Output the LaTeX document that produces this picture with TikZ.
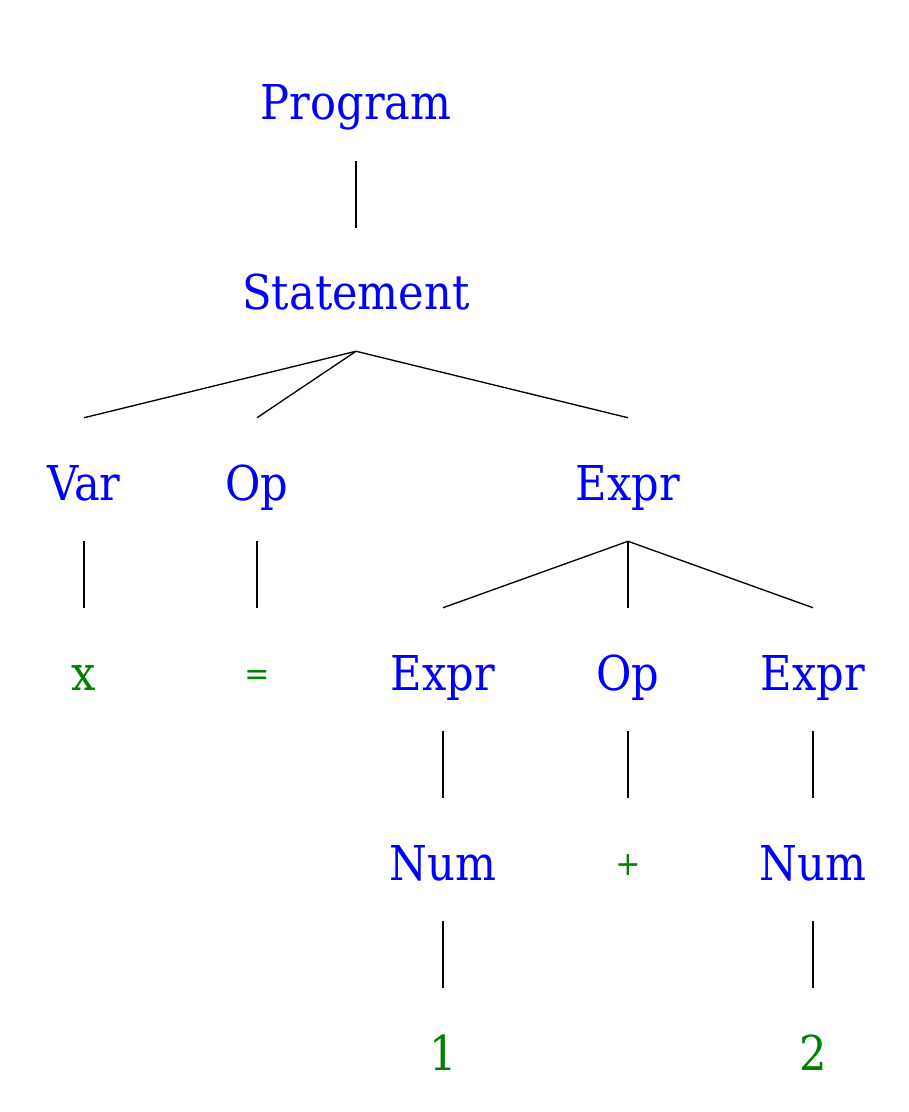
\documentclass[tikz,border=0pt]{standalone}
\usepackage{fontspec}
\setmainfont{DejaVu Serif Condensed}
\definecolor{ntblue}{RGB}{0,0,255}
\definecolor{tgreen}{RGB}{0,128,0}
\newcommand{\smallsym}[1]{\raisebox{3.5pt}{\fontsize{25}{30}\selectfont #1}}
\begin{document}
\begin{tikzpicture}[x=0.75pt,y=-0.75pt,
  nt/.style={anchor=base,text=ntblue,font=\fontsize{36}{43}\selectfont,inner xsep=0pt,inner ysep=0pt,text height=61.5pt,text depth=30.75pt},
  tm/.style={nt,text=tgreen},
  edge/.style={draw=black,line width=1pt}]
\useasboundingbox (0,0) rectangle (908,1112);
\node[nt] (prog) at (356,120) {Program};
\node[nt] (stmt) at (356,310) {Statement};
\node[nt] (var) at (84,500) {Var};
\node[nt] (op1) at (257,500) {Op};
\node[nt] (expr) at (628,500) {Expr};
\node[tm] (x) at (84,690) {x};
\node[tm] (eq) at (257,690) {\smallsym{=}};
\node[nt] (e1) at (443,690) {Expr};
\node[nt] (op2) at (628,690) {Op};
\node[nt] (e2) at (813,690) {Expr};
\node[nt] (n1) at (443,880) {Num};
\node[tm] (plus) at (628,880) {\smallsym{+}};
\node[nt] (n2) at (813,880) {Num};
\node[tm] (one) at (443,1070) {1};
\node[tm] (two) at (813,1070) {2};
\path[edge] (prog.south) -- (stmt.north);
\path[edge] (stmt.south) -- (var.north);
\path[edge] (stmt.south) -- (op1.north);
\path[edge] (stmt.south) -- (expr.north);
\path[edge] (var.south) -- (x.north);
\path[edge] (op1.south) -- (eq.north);
\path[edge] (expr.south) -- (e1.north);
\path[edge] (expr.south) -- (op2.north);
\path[edge] (expr.south) -- (e2.north);
\path[edge] (e1.south) -- (n1.north);
\path[edge] (op2.south) -- (plus.north);
\path[edge] (e2.south) -- (n2.north);
\path[edge] (n1.south) -- (one.north);
\path[edge] (n2.south) -- (two.north);
\end{tikzpicture}
\end{document}
